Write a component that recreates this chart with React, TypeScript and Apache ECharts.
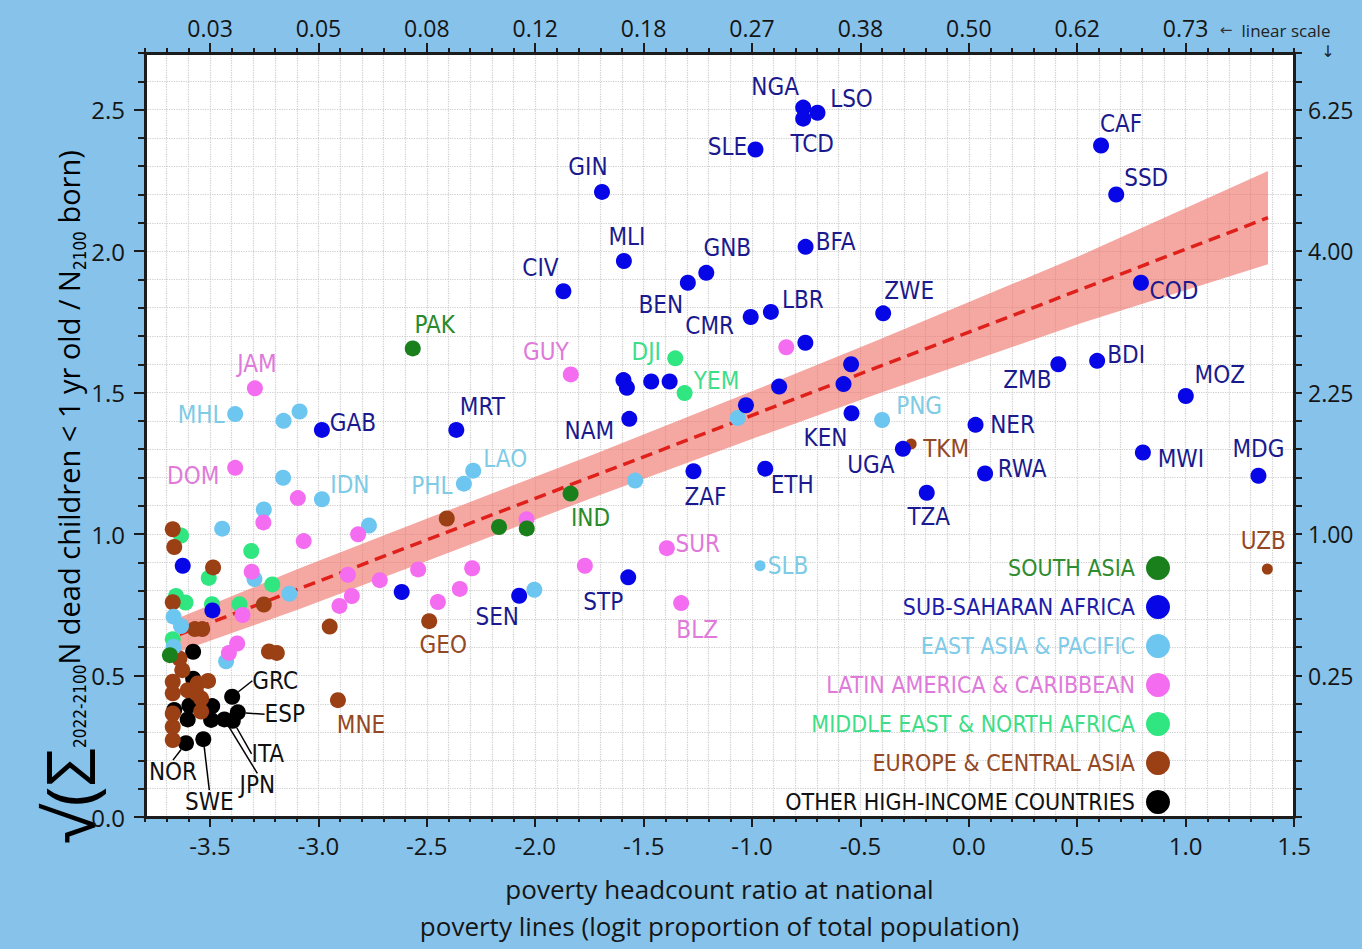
import React, { useEffect, useRef } from 'react';
import * as echarts from 'echarts';

// ---------- DATA ----------
// x: poverty headcount ratio (logit), y: sqrt(sum dead children / N born)
const saNames = ['PAK', 'IND', '', '', ''];
const saX = [-2.565, -1.837, -2.167, -2.039, -3.685];
const saY = [1.656, 1.143, 1.025, 1.02, 0.572];

const ssaNames = ['NGA', 'LSO', 'TCD', 'SLE', 'CAF', 'SSD', 'GIN', 'MLI', 'GNB', 'BFA', 'CIV', 'BEN', 'CMR', 'LBR', 'ZWE', 'COD', 'ZMB', 'BDI', 'MOZ', 'NER', 'MWI', 'MDG', 'RWA', 'TZA', 'UGA', 'KEN', 'ETH', 'ZAF', 'NAM', 'MRT', 'GAB', 'SEN', 'STP', '', '', '', '', '', '', '', '', '', '', '', ''];
const ssaX = [-0.764, -0.698, -0.764, -0.984, 0.61, 0.68, -1.692, -1.591, -1.211, -0.753, -1.87, -1.296, -1.006, -0.913, -0.395, 0.794, 0.413, 0.592, 1.001, 0.031, 0.803, 1.336, 0.075, -0.194, -0.304, -0.541, -0.939, -1.27, -1.566, -2.364, -2.984, -2.074, -1.571, -0.754, -0.543, -0.578, -0.875, -1.028, -1.593, -1.577, -1.465, -1.38, -2.616, -3.626, -3.489];
const ssaY = [2.507, 2.489, 2.468, 2.359, 2.373, 2.2, 2.209, 1.965, 1.923, 2.015, 1.858, 1.888, 1.767, 1.785, 1.78, 1.888, 1.6, 1.612, 1.488, 1.386, 1.288, 1.206, 1.214, 1.146, 1.301, 1.427, 1.231, 1.222, 1.407, 1.368, 1.368, 0.782, 0.847, 1.676, 1.6, 1.53, 1.521, 1.455, 1.544, 1.517, 1.539, 1.539, 0.795, 0.888, 0.73];

const eapNames = ['MHL', 'IDN', 'PHL', 'LAO', 'PNG', 'SLB', '', '', '', '', '', '', '', '', '', '', '', '', '', '', ''];
const eapX = [-3.384, -2.984, -2.329, -2.286, -0.4, -0.963, -3.161, -3.087, -3.163, -3.252, -3.444, -2.767, -1.539, -1.066, -3.295, -3.134, -2.004, -3.668, -3.634, -3.668, -3.426];
const eapY = [1.424, 1.123, 1.178, 1.224, 1.403, 0.888, 1.4, 1.433, 1.199, 1.087, 1.019, 1.03, 1.189, 1.41, 0.841, 0.789, 0.803, 0.708, 0.675, 0.602, 0.55];

const lacNames = ['JAM', 'DOM', 'GUY', 'SUR', 'BLZ', '', '', '', '', '', '', '', '', '', '', '', '', '', '', '', '', '', '', ''];
const lacX = [-3.293, -3.384, -1.836, -1.393, -1.327, -0.842, -3.095, -3.254, -3.068, -2.817, -2.04, -3.308, -2.864, -2.717, -2.846, -2.903, -2.54, -2.291, -2.348, -2.449, -1.771, -3.35, -3.375, -3.413];
const lacY = [1.515, 1.234, 1.564, 0.95, 0.756, 1.66, 1.127, 1.041, 0.975, 0.999, 1.052, 0.867, 0.856, 0.837, 0.781, 0.746, 0.875, 0.879, 0.806, 0.76, 0.888, 0.714, 0.613, 0.58];

const menaNames = ['DJI', 'YEM', '', '', '', '', '', '', '', '', ''];
const menaX = [-1.354, -1.311, -3.634, -3.31, -3.506, -3.213, -3.657, -3.613, -3.491, -3.364, -3.672];
const menaY = [1.621, 1.498, 0.995, 0.94, 0.845, 0.822, 0.781, 0.758, 0.752, 0.752, 0.628];

const ecaNames = ['TKM', 'UZB', 'GEO', 'MNE', '', '', '', '', '', '', '', '', '', '', '', '', '', '', '', '', '', '', '', '', '', '', '', ''];
const ecaX = [-0.266, 1.377, -2.489, -2.91, -2.408, -3.672, -3.665, -3.486, -3.672, -3.252, -3.57, -3.536, -2.948, -3.228, -3.192, -3.641, -3.628, -3.672, -3.672, -3.603, -3.557, -3.509, -3.563, -3.541, -3.541, -3.672, -3.672, -3.672];
const ecaY = [1.318, 0.876, 0.692, 0.413, 1.055, 1.017, 0.954, 0.882, 0.759, 0.751, 0.664, 0.664, 0.673, 0.585, 0.58, 0.56, 0.519, 0.478, 0.437, 0.448, 0.472, 0.481, 0.437, 0.419, 0.373, 0.366, 0.319, 0.272];

const ohiNames = ['GRC', 'ESP', 'ITA', 'JPN', 'NOR', 'SWE', '', '', '', '', '', '', ''];
const ohiX = [-3.398, -3.372, -3.395, -3.434, -3.611, -3.531, -3.578, -3.578, -3.49, -3.603, -3.665, -3.495, -3.595];
const ohiY = [0.425, 0.37, 0.34, 0.345, 0.261, 0.275, 0.584, 0.489, 0.392, 0.345, 0.378, 0.343, 0.394];

const smallDots = ['TKM', 'UZB', 'SLB'];

// regression fit and its band
const fitX = [-3.64, 1.38];
const fitY = [0.645, 2.118];
const bandX = [-3.64, -3.09, -2.46, -1.72, -0.96, -0.41, 0.52, 1.38];
const bandHigh = [0.705, 0.878, 1.066, 1.285, 1.517, 1.688, 1.986, 2.283];
const bandLow = [0.585, 0.734, 0.916, 1.133, 1.347, 1.498, 1.746, 1.953];

// axis ticks and labels
const xTicks = [-3.5, -3, -2.5, -2, -1.5, -1, -0.5, 0, 0.5, 1, 1.5];
const topTicks = [-3.5, -3, -2.5, -2, -1.5, -1, -0.5, 0, 0.5, 1];
const topLabels = ['0.03', '0.05', '0.08', '0.12', '0.18', '0.27', '0.38', '0.50', '0.62', '0.73'];
const yTicks = [0, 0.5, 1, 1.5, 2, 2.5];
const rightTicks = [0.5, 1, 1.5, 2, 2.5];
const rightLabels = ['0.25', '1.00', '2.25', '4.00', '6.25'];

// ---------- STYLE ----------
const NARROW = "'Liberation Sans Narrow', 'DejaVu Sans Condensed', 'Arial Narrow', sans-serif";
const SANS = "'Open Sans', 'Noto Sans', 'DejaVu Sans', sans-serif";

const labelOffsets: Record<string, number[]> = {
  NGA: [-28, -21], LSO: [34, -14], TCD: [9, 25], SLE: [-28, -2], CAF: [20, -22], SSD: [30, -16],
  GIN: [-14, -25], MLI: [3, -24], GNB: [21, -25], BFA: [30, -5], CIV: [-23, -23], BEN: [-27, 22],
  CMR: [-41, 9], LBR: [32, -12], ZWE: [26, -22], COD: [33, 8], ZMB: [-31, 16], BDI: [29, -6],
  MOZ: [34, -21], NER: [37, 0], MWI: [38, 6], MDG: [0, -27], RWA: [37, -4], TZA: [2, 24],
  UGA: [-32, 16], KEN: [-26, 25], ETH: [27, 16], ZAF: [12, 26], NAM: [-40, 12], MRT: [26, -23],
  GAB: [31, -7], SEN: [-22, 21], STP: [-25, 25], PAK: [22, -23], IND: [20, 24], JAM: [2, -24],
  MHL: [-34, 1], DOM: [-42, 8], IDN: [28, -14], PHL: [-32, 2], LAO: [32, -12], GUY: [-25, -22],
  DJI: [-29, -6], YEM: [32, -12], SUR: [31, -4], BLZ: [16, 27], SLB: [28, 0], PNG: [37, -14],
  TKM: [35, 5], UZB: [-4, -28], GEO: [14, 24], MNE: [23, 25],
  GRC: [43, -16], ESP: [47, 2], ITA: [35, 33], JPN: [33, 66], NOR: [-13, 29], SWE: [6, 63],
};

const regions = [
  { name: 'SOUTH ASIA', names: saNames, xs: saX, ys: saY, dot: '#19801c', text: '#2a8a2a', legend: '#2f8c2f' },
  { name: 'SUB-SAHARAN AFRICA', names: ssaNames, xs: ssaX, ys: ssaY, dot: '#0606e6', text: '#1a1a8e', legend: '#1d1da8' },
  { name: 'EAST ASIA & PACIFIC', names: eapNames, xs: eapX, ys: eapY, dot: '#6cc6f0', text: '#7ecbe6', legend: '#7fcbe8' },
  { name: 'LATIN AMERICA & CARIBBEAN', names: lacNames, xs: lacX, ys: lacY, dot: '#f46cf0', text: '#e07ada', legend: '#e07ada' },
  { name: 'MIDDLE EAST & NORTH AFRICA', names: menaNames, xs: menaX, ys: menaY, dot: '#2fe680', text: '#3edd88', legend: '#3edd88' },
  { name: 'EUROPE & CENTRAL ASIA', names: ecaNames, xs: ecaX, ys: ecaY, dot: '#9b3f14', text: '#944824', legend: '#944824' },
  { name: 'OTHER HIGH-INCOME COUNTRIES', names: ohiNames, xs: ohiX, ys: ohiY, dot: '#000000', text: '#111111', legend: '#111111' },
];

const drawOrder = [6, 4, 5, 2, 3, 0, 1];

export default function App() {
  const ref = useRef<HTMLDivElement>(null);
  useEffect(() => {
    if (!ref.current) return;
    const chart = echarts.init(ref.current, undefined, { renderer: 'svg' });

    const scatterSeries = drawOrder.map((ri) => {
      const r = regions[ri];
      const isOhi = ri === 6;
      const data = r.xs.map((x, i) => {
        const n = r.names[i] || '';
        const item: any = { name: n, value: [x, r.ys[i]] };
        if (n) {
          item.label = isOhi ? { show: true } : { show: true, offset: labelOffsets[n] };
        }
        if (smallDots.includes(n)) item.symbolSize = 11;
        return item;
      });
      const s: any = {
        type: 'scatter',
        name: r.name,
        xAxisIndex: 0,
        yAxisIndex: 0,
        z: 3,
        symbol: 'circle',
        symbolSize: 16,
        silent: true,
        itemStyle: { color: r.dot, opacity: 1 },
        label: {
          show: false,
          position: 'inside',
          formatter: '{b}',
          color: r.text,
          fontFamily: NARROW,
          fontSize: 24,
        },
        data,
      };
      if (isOhi) {
        s.labelLayout = (p: any) => {
          const o = labelOffsets[r.names[p.dataIndex]];
          return o ? { dx: o[0], dy: o[1] } : {};
        };
        s.labelLine = { show: true, length2: 0, lineStyle: { color: '#000', width: 1.5 } };
      }
      return s;
    });

    const axisLineStyle = { color: '#1c1c1c', width: 3 };
    const tickStyle = { color: '#1c1c1c', width: 2 };
    const gridLine = { show: true, lineStyle: { color: '#cdcdcd', type: 'dotted', width: 1.2 } };

    const option: any = {
      animation: false,
      backgroundColor: '#86c2ea',
      grid: { left: 145, right: 68, top: 53, bottom: 128, show: true, backgroundColor: '#ffffff', borderWidth: 0 },
      legend: {
        orient: 'vertical',
        right: 187,
        top: 551,
        align: 'right',
        icon: 'circle',
        itemWidth: 24,
        itemHeight: 24,
        itemGap: 15,
        selectedMode: false,
        textStyle: { fontFamily: NARROW, fontSize: 23, lineHeight: 24, padding: [0, 6, 0, 0] },
        data: regions.map((r) => ({ name: r.name, textStyle: { color: r.legend } })),
      },
      xAxis: [
        {
          type: 'value', position: 'bottom', min: -3.8, max: 1.5, interval: 0.1,
          axisLine: { show: true, onZero: false, lineStyle: axisLineStyle },
          axisTick: { show: true, length: 5, lineStyle: tickStyle },
          axisLabel: { show: false },
          splitLine: gridLine,
          name: 'poverty headcount ratio at national\npoverty lines (logit proportion of total population)',
          nameLocation: 'middle',
          nameGap: 53,
          nameTextStyle: { fontFamily: SANS, fontSize: 26, color: '#151515', lineHeight: 37 },
        },
        {
          type: 'value', position: 'bottom', min: -3.8, max: 1.5,
          axisLine: { show: false, onZero: false },
          axisTick: { show: true, length: 10, customValues: xTicks, lineStyle: tickStyle },
          axisLabel: {
            show: true, customValues: xTicks, margin: 16, fontFamily: SANS, fontSize: 24, color: '#151515',
            formatter: (v: number) => v.toFixed(1),
          },
          splitLine: { show: false },
        },
        {
          type: 'value', position: 'top', min: -3.8, max: 1.5, interval: 0.1,
          axisLine: { show: true, onZero: false, lineStyle: axisLineStyle },
          axisTick: { show: true, length: 5, lineStyle: tickStyle },
          axisLabel: { show: false },
          splitLine: { show: false },
        },
        {
          type: 'value', position: 'top', min: -3.8, max: 1.5,
          axisLine: { show: false, onZero: false },
          axisTick: { show: true, length: 10, customValues: topTicks, lineStyle: tickStyle },
          axisLabel: {
            show: true, customValues: topTicks, margin: 14, fontFamily: SANS, fontSize: 23, color: '#151515',
            formatter: (v: number) => {
              const i = topTicks.findIndex((t) => Math.abs(t - v) < 1e-6);
              return i >= 0 ? topLabels[i] : '';
            },
          },
          splitLine: { show: false },
        },
      ],
      yAxis: [
        {
          type: 'value', position: 'left', min: 0, max: 2.7, interval: 0.1,
          axisLine: { show: true, onZero: false, lineStyle: axisLineStyle },
          axisTick: { show: true, length: 7, lineStyle: tickStyle },
          axisLabel: {
            show: true, customValues: yTicks, margin: 20, fontFamily: SANS, fontSize: 24, color: '#151515',
            formatter: (v: number) => v.toFixed(1),
          },
          splitLine: gridLine,
        },
        {
          type: 'value', position: 'left', min: 0, max: 2.7,
          axisLine: { show: false, onZero: false },
          axisTick: { show: true, length: 11, customValues: yTicks, lineStyle: tickStyle },
          axisLabel: { show: false },
          splitLine: { show: false },
        },
        {
          type: 'value', position: 'right', min: 0, max: 2.7, interval: 0.1,
          axisLine: { show: true, onZero: false, lineStyle: axisLineStyle },
          axisTick: { show: true, length: 8, lineStyle: tickStyle },
          axisLabel: {
            show: true, customValues: rightTicks, margin: 14, fontFamily: SANS, fontSize: 23, color: '#151515',
            formatter: (v: number) => {
              const i = rightTicks.findIndex((t) => Math.abs(t - v) < 1e-6);
              return i >= 0 ? rightLabels[i] : '';
            },
          },
          splitLine: { show: false },
        },
      ],
      graphic: [
        {
          type: 'text', x: 68, y: 497, rotation: Math.PI / 2, silent: true,
          style: {
            text: '{big|√(Σ}{sub|2022-2100}{n|N dead children < 1 yr old / N}{sub|2100}{n| born)}',
            align: 'center', verticalAlign: 'middle',
            rich: {
              big: { fontFamily: SANS, fontSize: 68, color: '#111', verticalAlign: 'middle', lineHeight: 74 },
              n: { fontFamily: SANS, fontSize: 29, color: '#111', verticalAlign: 'middle' },
              sub: { fontFamily: NARROW, fontSize: 17, color: '#111', verticalAlign: 'middle', padding: [24, 0, 0, 0] },
            },
          },
        },
        {
          type: 'text', x: 1226, y: 30, silent: true,
          style: { text: '←', align: 'center', verticalAlign: 'middle', fontFamily: 'DejaVu Sans', fontSize: 15, fill: '#333' },
        },
        {
          type: 'text', x: 1286, y: 30, silent: true,
          style: { text: 'linear scale', align: 'center', verticalAlign: 'middle', fontFamily: SANS, fontSize: 17, fill: '#222' },
        },
        {
          type: 'text', x: 1328, y: 51, silent: true,
          style: { text: '↓', align: 'center', verticalAlign: 'middle', fontFamily: 'DejaVu Sans', fontSize: 16, fill: '#222' },
        },
      ],
      series: [
        {
          type: 'custom',
          name: 'band',
          coordinateSystem: 'cartesian2d',
          xAxisIndex: 0,
          yAxisIndex: 0,
          silent: true,
          z: 1,
          data: bandX.map((x, i) => [x, bandLow[i], bandHigh[i]]),
          encode: { x: 0, y: [1, 2] },
          renderItem: (params: any, api: any) => {
            if (params.dataIndex !== 0) return null;
            const pts: number[][] = [];
            for (let i = 0; i < bandX.length; i++) pts.push(api.coord([bandX[i], bandHigh[i]]));
            for (let i = bandX.length - 1; i >= 0; i--) pts.push(api.coord([bandX[i], bandLow[i]]));
            return { type: 'polygon', shape: { points: pts }, style: { fill: 'rgba(238,110,100,0.6)' } };
          },
        },
        {
          type: 'line',
          name: 'fit',
          xAxisIndex: 0,
          yAxisIndex: 0,
          z: 2,
          silent: true,
          symbol: 'none',
          lineStyle: { color: '#e0201b', width: 3.5, type: [12, 7] },
          data: fitX.map((x, i) => [x, fitY[i]]),
        },
        ...scatterSeries,
      ],
    };
    chart.setOption(option);
    return () => chart.dispose();
  }, []);

  return <div ref={ref} style={{ position: 'fixed', left: 0, top: 0, width: 1362, height: 949 }} />;
}
